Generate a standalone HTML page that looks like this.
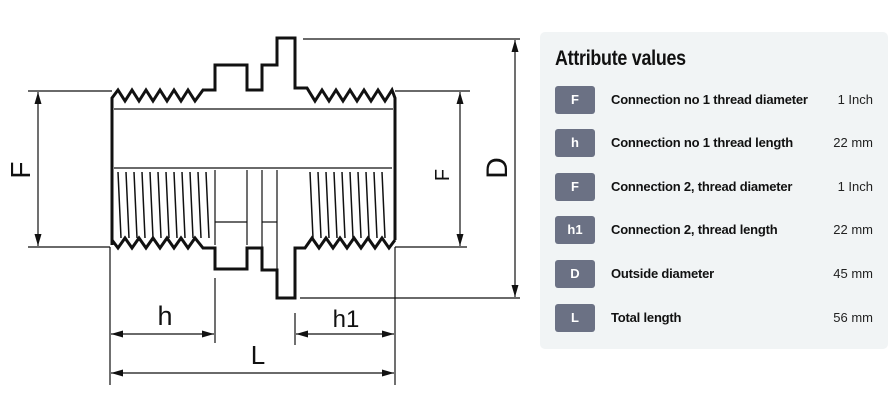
<!DOCTYPE html>
<html><head><meta charset="utf-8"><style>
body{margin:0;width:895px;height:408px;background:#fff;position:relative;overflow:hidden;font-family:"Liberation Sans",sans-serif}
svg{position:absolute;left:0;top:0}
.panel{position:absolute;left:540px;top:32px;width:348px;height:317px;background:#f1f4f5;border-radius:5px}
.title{position:absolute;left:15px;top:15px;font-size:21px;font-weight:bold;color:#111;transform:scaleX(0.85);transform-origin:left;letter-spacing:-0.3px}
.row{position:absolute;left:15px;width:318px;height:28px}
.b{position:absolute;left:0;top:0;width:40px;height:28px;background:#6b7184;border-radius:3px;color:#fff;font-weight:bold;font-size:13px;text-align:center;line-height:28px}
.l{position:absolute;left:56px;top:0;line-height:28px;font-size:13px;font-weight:bold;color:#111;letter-spacing:-0.2px}
.v{position:absolute;right:0;top:0;line-height:28px;font-size:13px;color:#222}
</style></head><body>
<svg width="895" height="408" viewBox="0 0 895 408">
<defs><marker id="a" viewBox="0 0 12 7" refX="12" refY="3.5" markerWidth="12" markerHeight="7" orient="auto-start-reverse" markerUnits="userSpaceOnUse"><path d="M0,0L12,3.5L0,7z" fill="#111"/></marker></defs>
<g stroke="#111" fill="none" stroke-width="1.2">
<line x1="28" y1="91" x2="112" y2="91"/><line x1="28" y1="247" x2="110" y2="247"/>
<line x1="303" y1="39" x2="520" y2="39"/><line x1="300" y1="298" x2="520" y2="298"/>
<line x1="395" y1="91" x2="470" y2="91"/><line x1="395" y1="247" x2="467" y2="247"/>
<line x1="110" y1="247" x2="110" y2="385"/><line x1="395" y1="247" x2="395" y2="385"/>
<line x1="215" y1="278" x2="215" y2="343"/><line x1="295" y1="313" x2="295" y2="345"/>
<line x1="38" y1="92" x2="38" y2="246" marker-start="url(#a)" marker-end="url(#a)"/>
<line x1="460" y1="92" x2="460" y2="246" marker-start="url(#a)" marker-end="url(#a)"/>
<line x1="515" y1="40" x2="515" y2="297" marker-start="url(#a)" marker-end="url(#a)"/>
<line x1="111" y1="334" x2="214" y2="334" marker-start="url(#a)" marker-end="url(#a)"/>
<line x1="296" y1="334" x2="394" y2="334" marker-start="url(#a)" marker-end="url(#a)"/>
<line x1="111" y1="373" x2="394" y2="373" marker-start="url(#a)" marker-end="url(#a)"/>
<g stroke-width="3">
<path d="M112,245 L112,98 L118,90 L125,101 L132,90 L139,101 L146,90 L153,101 L160,90 L167,101 L174,90 L181,101 L188,90 L195,101 L203,90 L215,90 L215,65 L247,65 L247,90 L262,90 L262,65 L277,65 L277,38 L295,38 L295,88 L307,88 L315,101 L322,90 L329,101 L336,90 L343,101 L350,90 L357,101 L364,90 L371,101 L378,90 L385,101 L392,90 L395,98 L395,240"/>
<path d="M112,240 L118,248 L125,238 L132,248 L139,238 L146,248 L153,238 L160,248 L167,238 L174,248 L181,238 L188,248 L195,238 L203,248 L215,248 L215,269 L247,269 L247,248 L262,248 L262,270 L277,270 L277,298 L295,298 L295,248 L305,248 L312,238 L319,248 L326,238 L333,248 L340,238 L347,248 L354,238 L361,248 L368,238 L375,248 L382,238 L389,248 L395,240"/>
</g>
<line x1="114" y1="109" x2="393" y2="109"/>
<line x1="114" y1="168" x2="392" y2="168"/>
<line x1="215" y1="170" x2="215" y2="245"/><line x1="247" y1="170" x2="247" y2="245"/>
<line x1="262" y1="170" x2="262" y2="265"/><line x1="277" y1="170" x2="277" y2="270"/>
<line x1="215" y1="222" x2="247" y2="222"/><line x1="262" y1="222" x2="277" y2="222"/>
<path d="M118,172l3,66M126,172l3,66M134,172l3,66M142,172l3,66M150,172l3,66M158,172l3,66M166,172l3,66M174,172l3,66M182,172l3,66M190,172l3,66M198,172l3,66M206,172l3,66M310,172l3,66M318,172l3,66M326,172l3,66M334,172l3,66M342,172l3,66M350,172l3,66M358,172l3,66M366,172l3,66M374,172l3,66M382,172l3,66" stroke-width="1.5"/>
</g>
<g font-family="Liberation Sans,sans-serif" fill="#111">
<text x="20" y="180" font-size="28" text-anchor="middle" transform="rotate(-90 20 170)">F</text>
<text x="442" y="182" font-size="20" text-anchor="middle" transform="rotate(-90 442 175)">F</text>
<text x="496" y="179" font-size="30" text-anchor="middle" transform="rotate(-90 496 168)">D</text>
<text x="165" y="325" font-size="27" text-anchor="middle">h</text>
<text x="346" y="327" font-size="24" text-anchor="middle">h1</text>
<text x="258" y="364" font-size="26" text-anchor="middle">L</text>
</g>
</svg>
<div class="panel">
<div class="title">Attribute values</div>
<div class="row" style="top:54px"><div class="b">F</div><div class="l">Connection no 1 thread diameter</div><div class="v">1 Inch</div></div>
<div class="row" style="top:97px"><div class="b">h</div><div class="l">Connection no 1 thread length</div><div class="v">22 mm</div></div>
<div class="row" style="top:141px"><div class="b">F</div><div class="l">Connection 2, thread diameter</div><div class="v">1 Inch</div></div>
<div class="row" style="top:184px"><div class="b">h1</div><div class="l">Connection 2, thread length</div><div class="v">22 mm</div></div>
<div class="row" style="top:228px"><div class="b">D</div><div class="l">Outside diameter</div><div class="v">45 mm</div></div>
<div class="row" style="top:272px"><div class="b">L</div><div class="l">Total length</div><div class="v">56 mm</div></div>
</div>
</body></html>
